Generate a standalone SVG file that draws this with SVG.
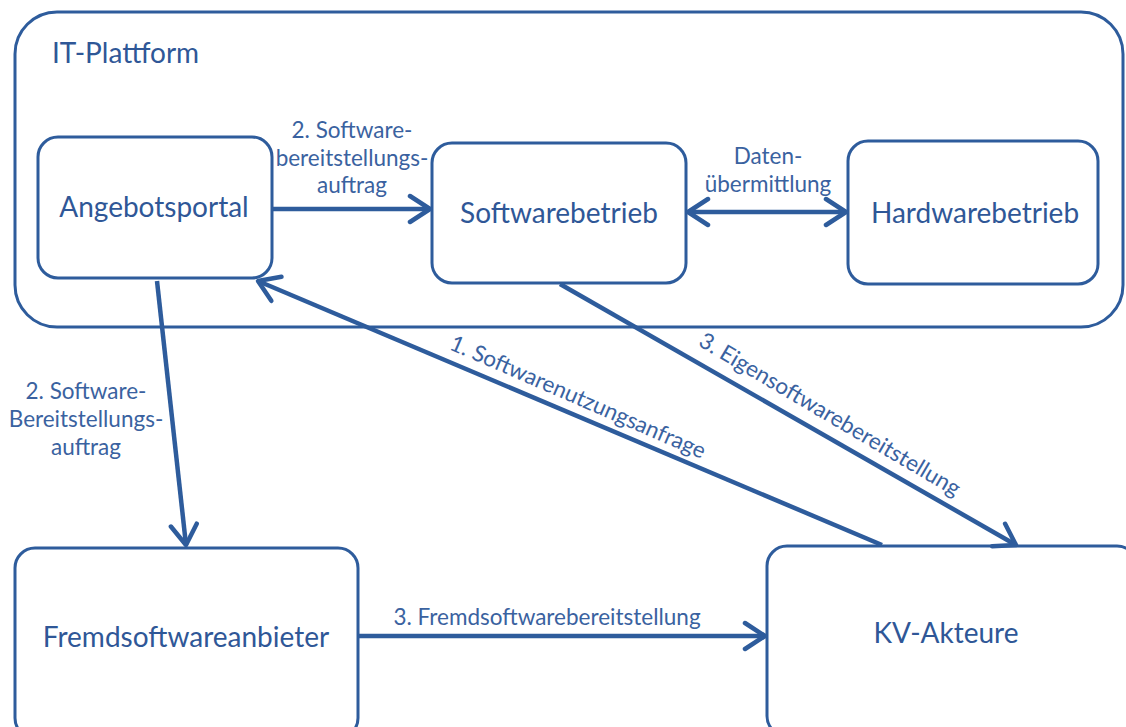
<svg xmlns="http://www.w3.org/2000/svg" width="1126" height="727" viewBox="0 0 1126 727">
<style>
.box{fill:#fff;stroke:#2e5c9c;stroke-width:3}
.cont{fill:#fff;stroke:#2e5c9c;stroke-width:3}
.node{font-family:Lato,"Liberation Sans",sans-serif;font-size:28px;fill:#2f5797;text-anchor:middle}
.lbl{font-family:Lato,"Liberation Sans",sans-serif;font-size:22.5px;fill:#3a62a0;text-anchor:middle}
.edge{fill:none;stroke:#2e5c9c;stroke-width:4.5}
</style>
<defs>
<marker id="ah" viewBox="0 0 26 32" refX="23" refY="16" markerWidth="26" markerHeight="32" markerUnits="userSpaceOnUse" orient="auto-start-reverse">
<path d="M3,3 L23,16 L3,29" fill="none" stroke="#2e5c9c" stroke-width="4.5" stroke-linecap="round" stroke-linejoin="round"/>
</marker>
</defs>
<rect width="1126" height="727" fill="#fff"/>
<g id="it-plattform">
<rect class="cont" x="15" y="12" width="1108" height="315" rx="42"/>
<text class="node" x="52" y="63" style="text-anchor:start">IT-Plattform</text>
</g>
<g id="angebotsportal">
<rect class="box" x="38" y="137" width="234" height="141" rx="20"/>
<text class="node" x="154" y="217">Angebotsportal</text>
</g>
<g id="softwarebetrieb">
<rect class="box" x="432" y="143" width="254" height="140" rx="20"/>
<text class="node" x="559" y="223">Softwarebetrieb</text>
</g>
<g id="hardwarebetrieb">
<rect class="box" x="848" y="141" width="250" height="143" rx="20"/>
<text class="node" x="975" y="223">Hardwarebetrieb</text>
</g>
<g id="fremdsoftwareanbieter">
<rect class="box" x="15" y="548" width="343" height="190" rx="20"/>
<text class="node" x="186" y="647">Fremdsoftwareanbieter</text>
</g>
<g id="kv-akteure">
<rect class="box" x="767" y="546" width="370" height="190" rx="20"/>
<text class="node" x="946" y="643">KV-Akteure</text>
</g>
<g id="connectors">
<line class="edge" x1="273" y1="209" x2="430" y2="209" marker-end="url(#ah)"/>
<line class="edge" x1="688" y1="212" x2="846" y2="212" marker-start="url(#ah)" marker-end="url(#ah)"/>
<line class="edge" x1="157" y1="281" x2="186" y2="545" marker-end="url(#ah)"/>
<line class="edge" x1="882" y1="545" x2="258" y2="281" marker-end="url(#ah)"/>
<line class="edge" x1="560" y1="284" x2="1016" y2="545" marker-end="url(#ah)"/>
<line class="edge" x1="359" y1="636" x2="765" y2="636" marker-end="url(#ah)"/>
</g>
<g id="labels">
<text class="lbl" x="352" y="138">2. Software-</text>
<text class="lbl" x="352" y="166">bereitstellungs-</text>
<text class="lbl" x="352" y="193">auftrag</text>
<text class="lbl" x="768" y="164">Daten-</text>
<text class="lbl" x="768" y="192">übermittlung</text>
<text class="lbl" x="86" y="399">2. Software-</text>
<text class="lbl" x="86" y="427">Bereitstellungs-</text>
<text class="lbl" x="86" y="455">auftrag</text>
<text class="lbl" x="547" y="625">3. Fremdsoftwarebereitstellung</text>
<text class="lbl" transform="translate(575,404) rotate(23.5)">1. Softwarenutzungsanfrage</text>
<text class="lbl" transform="translate(826,421) rotate(30.5)">3. Eigensoftwarebereitstellung</text>
</g>
</svg>
